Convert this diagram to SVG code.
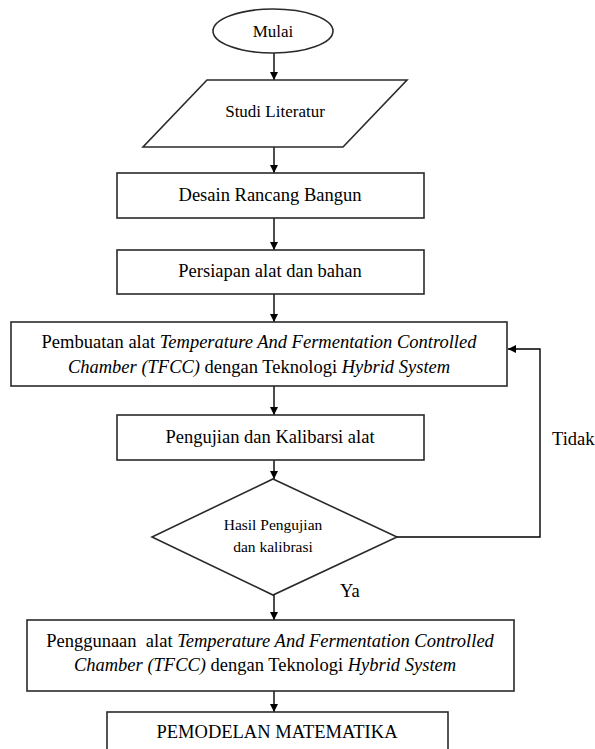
<svg xmlns="http://www.w3.org/2000/svg" width="595" height="749" viewBox="0 0 595 749">
<defs>
<marker id="arr" viewBox="0 0 10 10" refX="10" refY="5" markerWidth="8" markerHeight="8" markerUnits="userSpaceOnUse" orient="auto">
<path d="M0,0 L10,5 L0,10 z" fill="#000"/>
</marker>
<style>
.shape{fill:#fff;stroke:#2a2a2a;stroke-width:1.6}
.line{fill:none;stroke:#000;stroke-width:1.4;marker-end:url(#arr)}
text{font-family:"Liberation Serif","Times New Roman",serif;fill:#000;text-anchor:middle;font-size:18.5px}
.sm{font-size:17px}
.xs{font-size:15.5px}
.it{font-style:italic}
.lab{text-anchor:start}
</style>
</defs>
<rect width="595" height="749" fill="#fff"/>
<g id="connectors">
<line class="line" x1="274" y1="53" x2="274" y2="80"/>
<line class="line" x1="274" y1="147" x2="274" y2="173"/>
<line class="line" x1="274" y1="218" x2="274" y2="250"/>
<line class="line" x1="274" y1="294" x2="274" y2="322"/>
<line class="line" x1="274" y1="386" x2="274" y2="415"/>
<line class="line" x1="274" y1="460" x2="274" y2="479"/>
<line class="line" x1="274" y1="595" x2="274" y2="620"/>
<line class="line" x1="274" y1="691" x2="274" y2="712"/>
<polyline class="line" points="397,537 540,537 540,349 508,349"/>
<text class="lab" x="552" y="445">Tidak</text>
<text class="lab" x="340" y="597">Ya</text>
</g>
<g id="mulai">
<ellipse class="shape" cx="273" cy="31" rx="60" ry="22"/>
<text class="sm" x="273" y="37">Mulai</text>
</g>
<g id="studi">
<polygon class="shape" points="207,80 407,80 343,147 143,147"/>
<text class="sm" x="275" y="117">Studi Literatur</text>
</g>
<g id="desain">
<rect class="shape" x="117" y="173" width="307" height="45"/>
<text x="270" y="201">Desain Rancang Bangun</text>
</g>
<g id="persiapan">
<rect class="shape" x="117" y="250" width="307" height="44"/>
<text x="270" y="277">Persiapan alat dan bahan</text>
</g>
<g id="pembuatan">
<rect class="shape" x="11" y="322" width="496" height="64"/>
<text x="259" y="348">Pembuatan alat <tspan class="it">Temperature And Fermentation Controlled</tspan></text>
<text x="259" y="373"><tspan class="it">Chamber (TFCC)</tspan> dengan Teknologi <tspan class="it">Hybrid System</tspan></text>
</g>
<g id="pengujian">
<rect class="shape" x="117" y="415" width="307" height="45"/>
<text x="270" y="443">Pengujian dan Kalibarsi alat</text>
</g>
<g id="keputusan">
<polygon class="shape" points="273,479 397,537 273,595 152,537"/>
<text class="xs" x="273" y="530">Hasil Pengujian</text>
<text class="xs" x="273" y="552">dan kalibrasi</text>
</g>
<g id="penggunaan">
<rect class="shape" x="27" y="620" width="487" height="71"/>
<text x="270" y="647" xml:space="preserve">Penggunaan  alat <tspan class="it">Temperature And Fermentation Controlled</tspan></text>
<text x="265" y="671"><tspan class="it">Chamber (TFCC)</tspan> dengan Teknologi <tspan class="it">Hybrid System</tspan></text>
</g>
<g id="pemodelan">
<rect class="shape" x="107" y="712" width="341" height="50"/>
<text x="277" y="738">PEMODELAN MATEMATIKA</text>
</g>
</svg>
